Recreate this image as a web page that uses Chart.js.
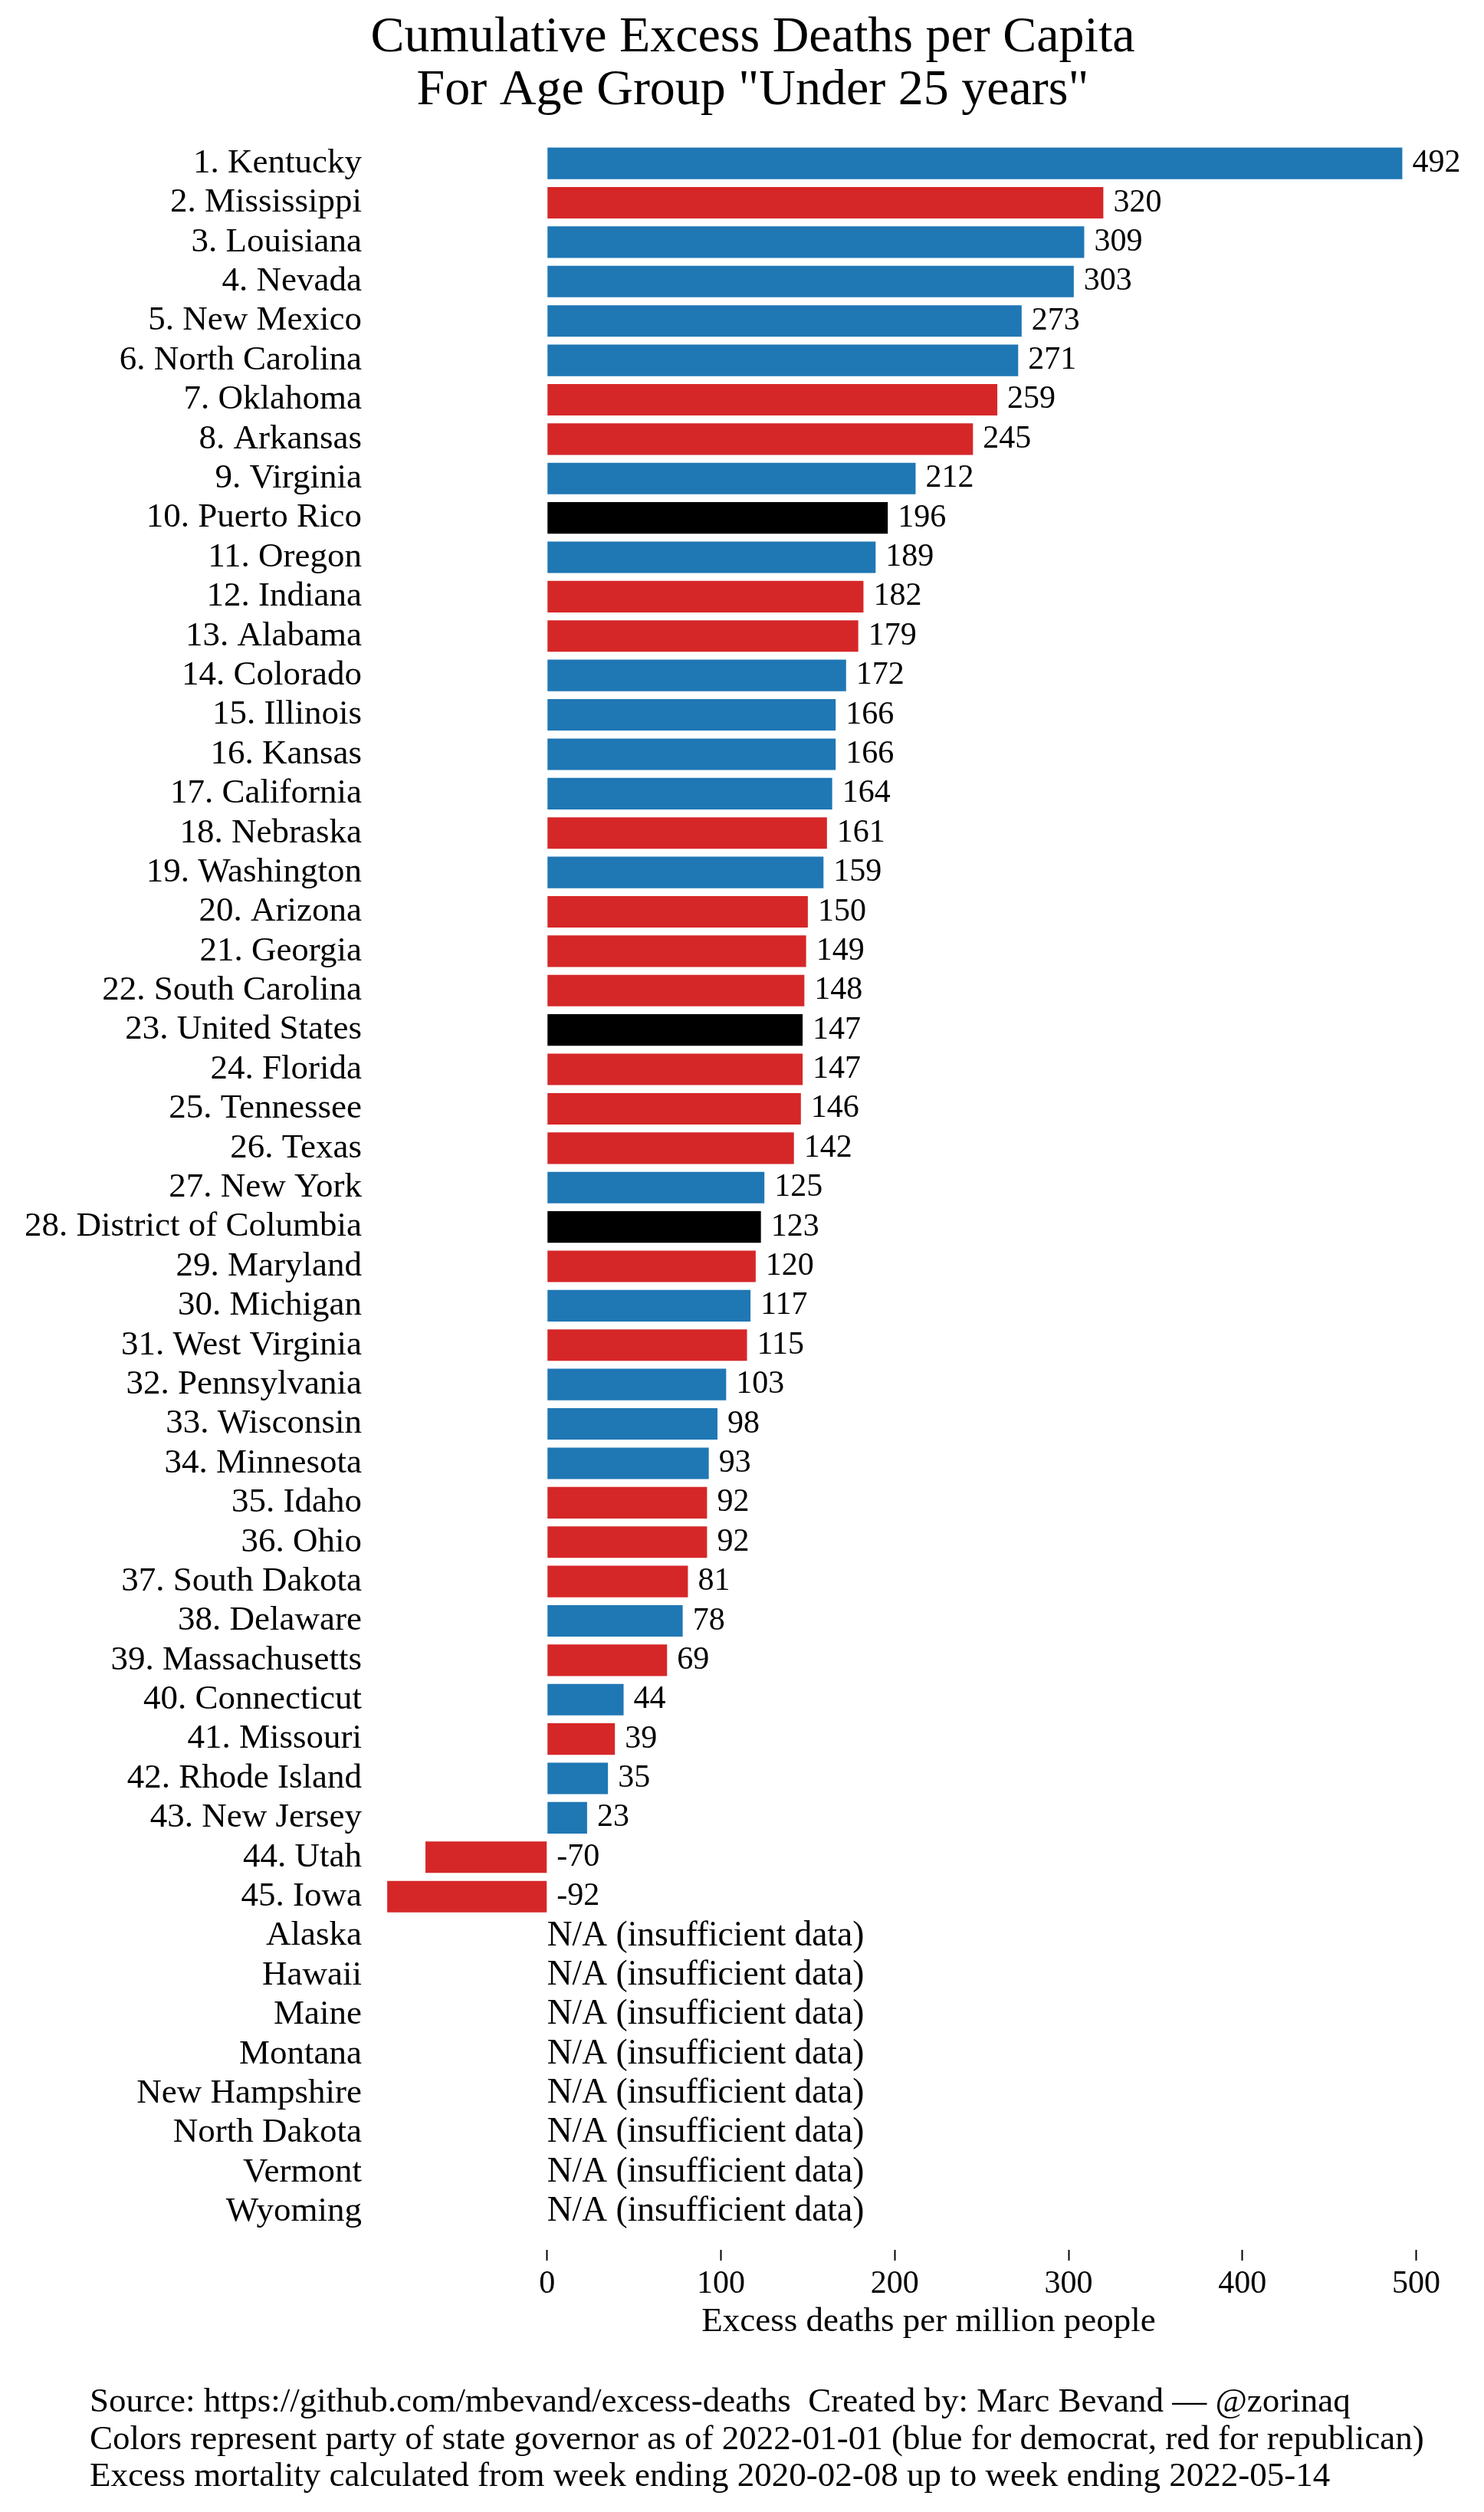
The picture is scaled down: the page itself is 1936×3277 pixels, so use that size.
<!DOCTYPE html>
<html>
<head>
<meta charset="utf-8">
<script src="https://cdn.jsdelivr.net/npm/chart.js@4.4.1/dist/chart.umd.min.js"></script>
<style>
  html, body { margin: 0; padding: 0; background: #fff; }
  #wrap { width: 1936px; height: 3277px; position: relative; }
</style>
</head>
<body>
<div id="wrap"><canvas id="chart"></canvas></div>
<script>
const states = [
  "Kentucky", "Mississippi", "Louisiana", "Nevada", "New Mexico", "North Carolina",
  "Oklahoma", "Arkansas", "Virginia", "Puerto Rico", "Oregon", "Indiana", "Alabama",
  "Colorado", "Illinois", "Kansas", "California", "Nebraska", "Washington", "Arizona",
  "Georgia", "South Carolina", "United States", "Florida", "Tennessee", "Texas",
  "New York", "District of Columbia", "Maryland", "Michigan", "West Virginia",
  "Pennsylvania", "Wisconsin", "Minnesota", "Idaho", "Ohio", "South Dakota",
  "Delaware", "Massachusetts", "Connecticut", "Missouri", "Rhode Island",
  "New Jersey", "Utah", "Iowa"
];
const noData = [
  "Alaska", "Hawaii", "Maine", "Montana", "New Hampshire", "North Dakota", "Vermont", "Wyoming"
];
const excess = [
  492, 320, 309, 303, 273, 271, 259, 245, 212, 196, 189, 182, 179, 172, 166, 166,
  164, 161, 159, 150, 149, 148, 147, 147, 146, 142, 125, 123, 120, 117, 115, 103,
  98, 93, 92, 92, 81, 78, 69, 44, 39, 35, 23, -70, -92
];
// D = democrat governor, R = republican governor, O = other (no governor / national)
const party = [
  "D", "R", "D", "D", "D", "D", "R", "R", "D", "O", "D", "R", "R", "D", "D", "D",
  "D", "R", "D", "R", "R", "R", "O", "R", "R", "R", "D", "O", "R", "D", "R", "D",
  "D", "D", "R", "R", "R", "D", "R", "D", "R", "D", "D", "R", "R"
];
const xTicks = [0, 100, 200, 300, 400, 500];
const footer = [
  "Source: https://github.com/mbevand/excess-deaths  Created by: Marc Bevand \u2014 @zorinaq",
  "Colors represent party of state governor as of 2022-01-01 (blue for democrat, red for republican)",
  "Excess mortality calculated from week ending 2020-02-08 up to week ending 2022-05-14"
];

const partyColor = { D: "#1f77b4", R: "#d62728", O: "#000000" };
const FONT = "Liberation Serif";

const labels = states.map((s, i) => (i + 1) + ". " + s).concat(noData);
const values = excess.concat(noData.map(() => null));
const colors = party.map(p => partyColor[p]).concat(noData.map(() => "#000000"));

const valueLabels = {
  id: "valueLabels",
  afterDatasetsDraw(chart) {
    const { ctx, scales: { x, y } } = chart;
    const meta = chart.getDatasetMeta(0);
    ctx.save();
    ctx.fillStyle = "#000";
    ctx.textBaseline = "middle";
    ctx.textAlign = "left";
    values.forEach((v, i) => {
      if (v === null) {
        ctx.font = "45.5px '" + FONT + "'";
        ctx.fillText("N/A (insufficient data)", x.getPixelForValue(0), y.getPixelForValue(i));
      } else {
        const bar = meta.data[i];
        ctx.font = "42px '" + FONT + "'";
        ctx.fillText(String(v), Math.max(bar.x, bar.base) + 13, bar.y);
      }
    });
    ctx.restore();
  }
};

const footerText = {
  id: "footerText",
  afterDraw(chart) {
    const ctx = chart.ctx;
    ctx.save();
    ctx.fillStyle = "#000";
    ctx.font = "45px '" + FONT + "'";
    ctx.textBaseline = "alphabetic";
    ctx.textAlign = "left";
    footer.forEach((line, i) => ctx.fillText(line, 117, 3146 + i * 48.5));
    ctx.restore();
  }
};

Chart.defaults.color = "#000";
Chart.defaults.font.family = FONT;

new Chart(document.getElementById("chart"), {
  type: "bar",
  data: {
    labels: labels,
    datasets: [{
      data: values,
      backgroundColor: colors,
      borderWidth: 0,
      barPercentage: 0.8,
      categoryPercentage: 1.0
    }]
  },
  options: {
    indexAxis: "y",
    responsive: true,
    maintainAspectRatio: false,
    animation: false,
    devicePixelRatio: 1,
    layout: { padding: { left: 28, right: 0, top: 0, bottom: 221 } },
    plugins: {
      legend: { display: false },
      tooltip: { enabled: false },
      title: {
        display: true,
        text: ["Cumulative Excess Deaths per Capita", "For Age Group \"Under 25 years\""],
        font: { size: 66, weight: "normal", lineHeight: 1.045 },
        color: "#000",
        padding: { top: 15, bottom: 34.5 }
      }
    },
    scales: {
      x: {
        min: -100,
        max: 539,
        afterBuildTicks: (scale) => { scale.ticks = xTicks.map(v => ({ value: v })); },
        afterFit: (scale) => { scale.height = 145; },
        border: { display: false },
        grid: {
          display: true,
          drawOnChartArea: false,
          drawTicks: true,
          tickLength: 38,
          tickWidth: 2,
          tickColor: "#000",
          tickBorderDash: [14, 24],
          tickBorderDashOffset: 14
        },
        ticks: { font: { size: 42 }, padding: 6, color: "#000", maxRotation: 0 },
        title: {
          display: true,
          text: "Excess deaths per million people",
          font: { size: 45, weight: "normal" },
          padding: 0,
          color: "#000"
        }
      },
      y: {
        afterFit: (scale) => { scale.width = 459; },
        border: { display: false },
        grid: { display: false, drawTicks: false },
        ticks: { font: { size: 45 }, padding: 15, color: "#000", autoSkip: false }
      }
    }
  },
  plugins: [valueLabels, footerText]
});
</script>
</body>
</html>
